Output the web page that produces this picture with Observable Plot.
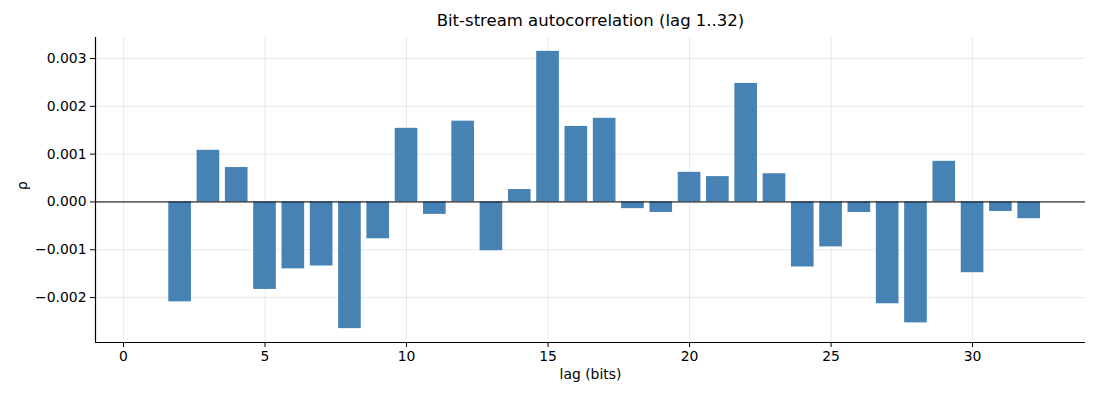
<!DOCTYPE html>
<html>
<head>
<meta charset="utf-8">
<script src="https://cdn.jsdelivr.net/npm/d3@7"></script>
<script src="https://cdn.jsdelivr.net/npm/@observablehq/plot@0.6"></script>
<style>
  html, body { margin: 0; padding: 0; background: #fff; }
  svg { font-family: "DejaVu Sans", sans-serif; }
</style>
</head>
<body>
<div id="chart"></div>
<script>
const title = "Bit-stream autocorrelation (lag 1..32)";
const xLabel = "lag (bits)";
const yLabel = "ρ";
const lags = d3.range(1, 33);
const rho = [
  0.00000, -0.00209, 0.00108, 0.00072, -0.00183, -0.00140, -0.00134, -0.00265,
  -0.00077, 0.00154, -0.00026, 0.00169, -0.00102, 0.00026, 0.00315, 0.00158,
  0.00175, -0.00014, -0.00022, 0.00062, 0.00053, 0.00248, 0.00059, -0.00136,
  -0.00094, -0.00022, -0.00213, -0.00253, 0.00085, -0.00148, -0.00020, -0.00035
];
const xTicks = [0, 5, 10, 15, 20, 25, 30];
const yTicks = [-0.002, -0.001, 0, 0.001, 0.002, 0.003];
const xDomain = [-0.99, 33.99];
const yDomain = [-0.00294, 0.00344];
const barWidth = 0.8;

const data = lags.map((lag, i) => ({lag, rho: rho[i]}));

const chart = Plot.plot({
  width: 1100,
  height: 400,
  marginLeft: 95,
  marginRight: 15,
  marginTop: 37,
  marginBottom: 58,
  style: {fontFamily: "DejaVu Sans, sans-serif", fontSize: "14px", color: "#000", background: "#fff"},
  x: {domain: xDomain},
  y: {domain: yDomain},
  marks: [
    Plot.gridX(xTicks, {stroke: "#b0b0b0", strokeOpacity: 0.35, strokeWidth: 0.8}),
    Plot.gridY(yTicks, {stroke: "#b0b0b0", strokeOpacity: 0.35, strokeWidth: 0.8}),
    Plot.rectY(data, {
      x1: d => d.lag - barWidth / 2,
      x2: d => d.lag + barWidth / 2,
      y1: 0,
      y2: "rho",
      fill: "#4682b4"
    }),
    Plot.ruleY([0], {stroke: "#000", strokeWidth: 1}),
    Plot.ruleX([xDomain[0]], {stroke: "#000", strokeWidth: 1.2}),
    Plot.ruleY([yDomain[0]], {stroke: "#000", strokeWidth: 1.2}),
    Plot.axisX(xTicks, {
      tickSize: 5, tickPadding: 4, fontSize: 13.9, label: null, tickFormat: d3.format("d")
    }),
    Plot.axisY(yTicks, {
      tickSize: 5, tickPadding: 4, fontSize: 13.9, label: null, tickFormat: d3.format(".3f")
    }),
    Plot.text([title], {frameAnchor: "top", dy: -23, fontSize: 16.5, fill: "#000"}),
    Plot.text([xLabel], {frameAnchor: "bottom", dy: 36, fontSize: 13.9, fill: "#000"}),
    Plot.text([yLabel], {frameAnchor: "left", dx: -73, dy: 0, rotate: -90, fontSize: 13.9, fill: "#000"})
  ]
});
document.getElementById("chart").appendChild(chart);
</script>
</body>
</html>
